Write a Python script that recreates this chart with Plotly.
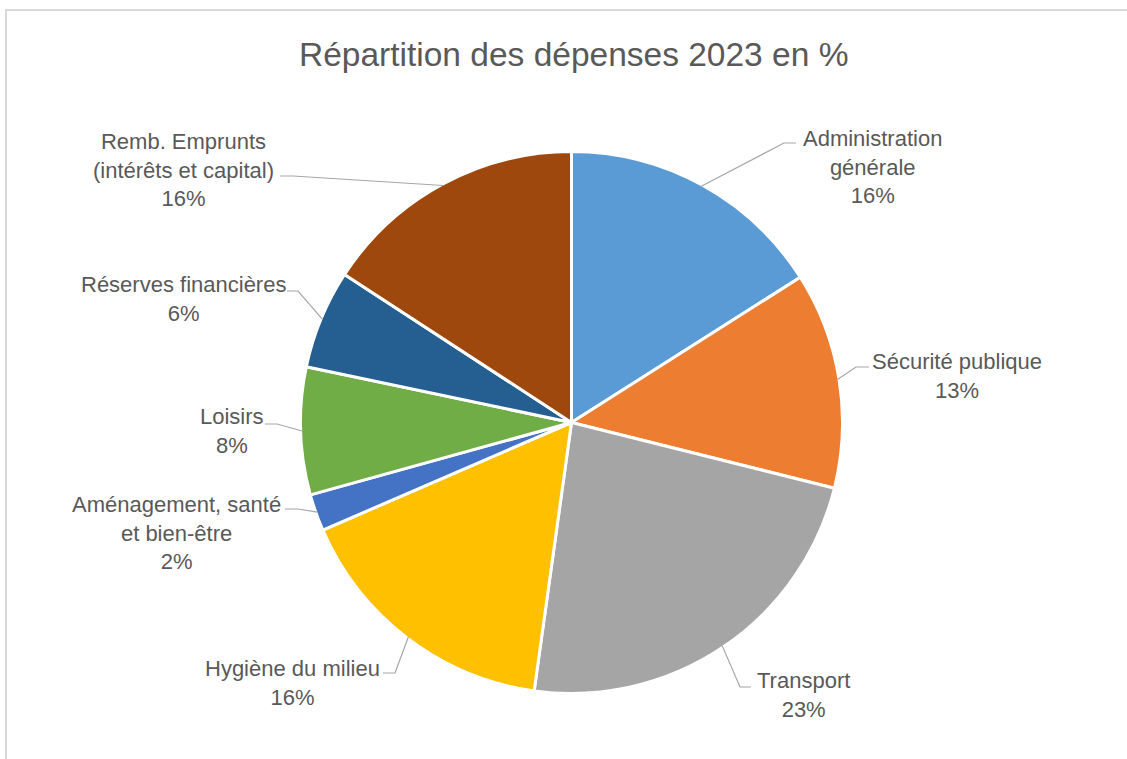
import math
import plotly.graph_objects as go

# ---- data ----
categories = [
    "Administration générale",
    "Sécurité publique",
    "Transport",
    "Hygiène du milieu",
    "Aménagement, santé et bien-être",
    "Loisirs",
    "Réserves financières",
    "Remb. Emprunts (intérêts et capital)",
]
label_texts = [
    "Administration<br>générale",
    "Sécurité publique",
    "Transport",
    "Hygiène du milieu",
    "Aménagement, santé<br>et bien-être",
    "Loisirs",
    "Réserves financières",
    "Remb. Emprunts<br>(intérêts et capital)",
]
values = [16.0, 12.9, 23.3, 16.3, 2.2, 7.6, 5.9, 15.8]
colors = ["#5B9BD5", "#ED7D31", "#A5A5A5", "#FFC000",
          "#4472C4", "#70AD47", "#255E91", "#9E480E"]
title_text = "Répartition des dépenses 2023 en %"

# ---- layout (pixels) ----
W, H = 1127, 759
CX, CY, R = 571.5, 422.5, 271.0
R_EDGE = 269.5
# label block centres
label_pos = [(872, 167), (957, 376), (803, 695), (292, 683),
             (176, 533), (232, 431), (183, 299), (183, 170)]
# end of leader line next to the label, and direction of the short horizontal stub
leader_end = [(796, 143, -12), (869, 367, -13), (751, 687, -11), (383, 673, 12),
              (285, 509, 13), (265, 424, 12), (287, 291, 11), (280, 176, 13)]

def px(x):
    return x / W

def py(y):
    return 1 - y / H

fig = go.Figure(go.Pie(
    labels=categories,
    values=values,
    sort=False,
    direction="clockwise",
    rotation=0,
    textinfo="none",
    marker=dict(colors=colors, line=dict(color="white", width=3)),
    domain=dict(x=[px(CX - R), px(CX + R)], y=[py(CY + R), py(CY - R)]),
    showlegend=False,
    hovertemplate="%{label}: %{percent}<extra></extra>",
))

total = sum(values)
annotations = []
shapes = []
cum = 0.0
for i, v in enumerate(values):
    mid = (cum + v / 2) / total
    cum += v
    theta = 2 * math.pi * mid
    ax = CX + R_EDGE * math.sin(theta)
    ay = CY - R_EDGE * math.cos(theta)
    ex, ey, stub = leader_end[i]
    elx = ex + stub
    shapes.append(dict(
        type="path", xref="paper", yref="paper",
        path=f"M {px(ax)} {py(ay)} L {px(elx)} {py(ey)} L {px(ex)} {py(ey)}",
        line=dict(color="#A6A6A6", width=1.2),
    ))
    pct = round(v / total * 100)
    lx, ly = label_pos[i]
    annotations.append(dict(
        x=px(lx), y=py(ly), xref="paper", yref="paper",
        xanchor="center", yanchor="middle", showarrow=False,
        text=f"{label_texts[i]}<br>{pct}%", align="center",
        font=dict(family="Liberation Sans, Arial, sans-serif", size=22, color="#595959"),
    ))

annotations.append(dict(
    x=px(573), y=py(54), xref="paper", yref="paper",
    xanchor="center", yanchor="middle", showarrow=False,
    text=title_text,
    font=dict(family="Liberation Sans, Arial, sans-serif", size=33.5, color="#595959"),
))

# chart area border
shapes.append(dict(type="rect", xref="paper", yref="paper",
                   x0=px(6), x1=px(W + 20), y0=py(H + 20), y1=py(10),
                   line=dict(color="#D9D9D9", width=2), fillcolor="rgba(0,0,0,0)"))

fig.update_layout(
    width=W, height=H,
    margin=dict(l=0, r=0, t=0, b=0),
    paper_bgcolor="white", plot_bgcolor="white",
    annotations=annotations, shapes=shapes,
)

fig.write_html("out.html", config={"displayModeBar": False},
               post_script="document.body.style.margin='0';")
